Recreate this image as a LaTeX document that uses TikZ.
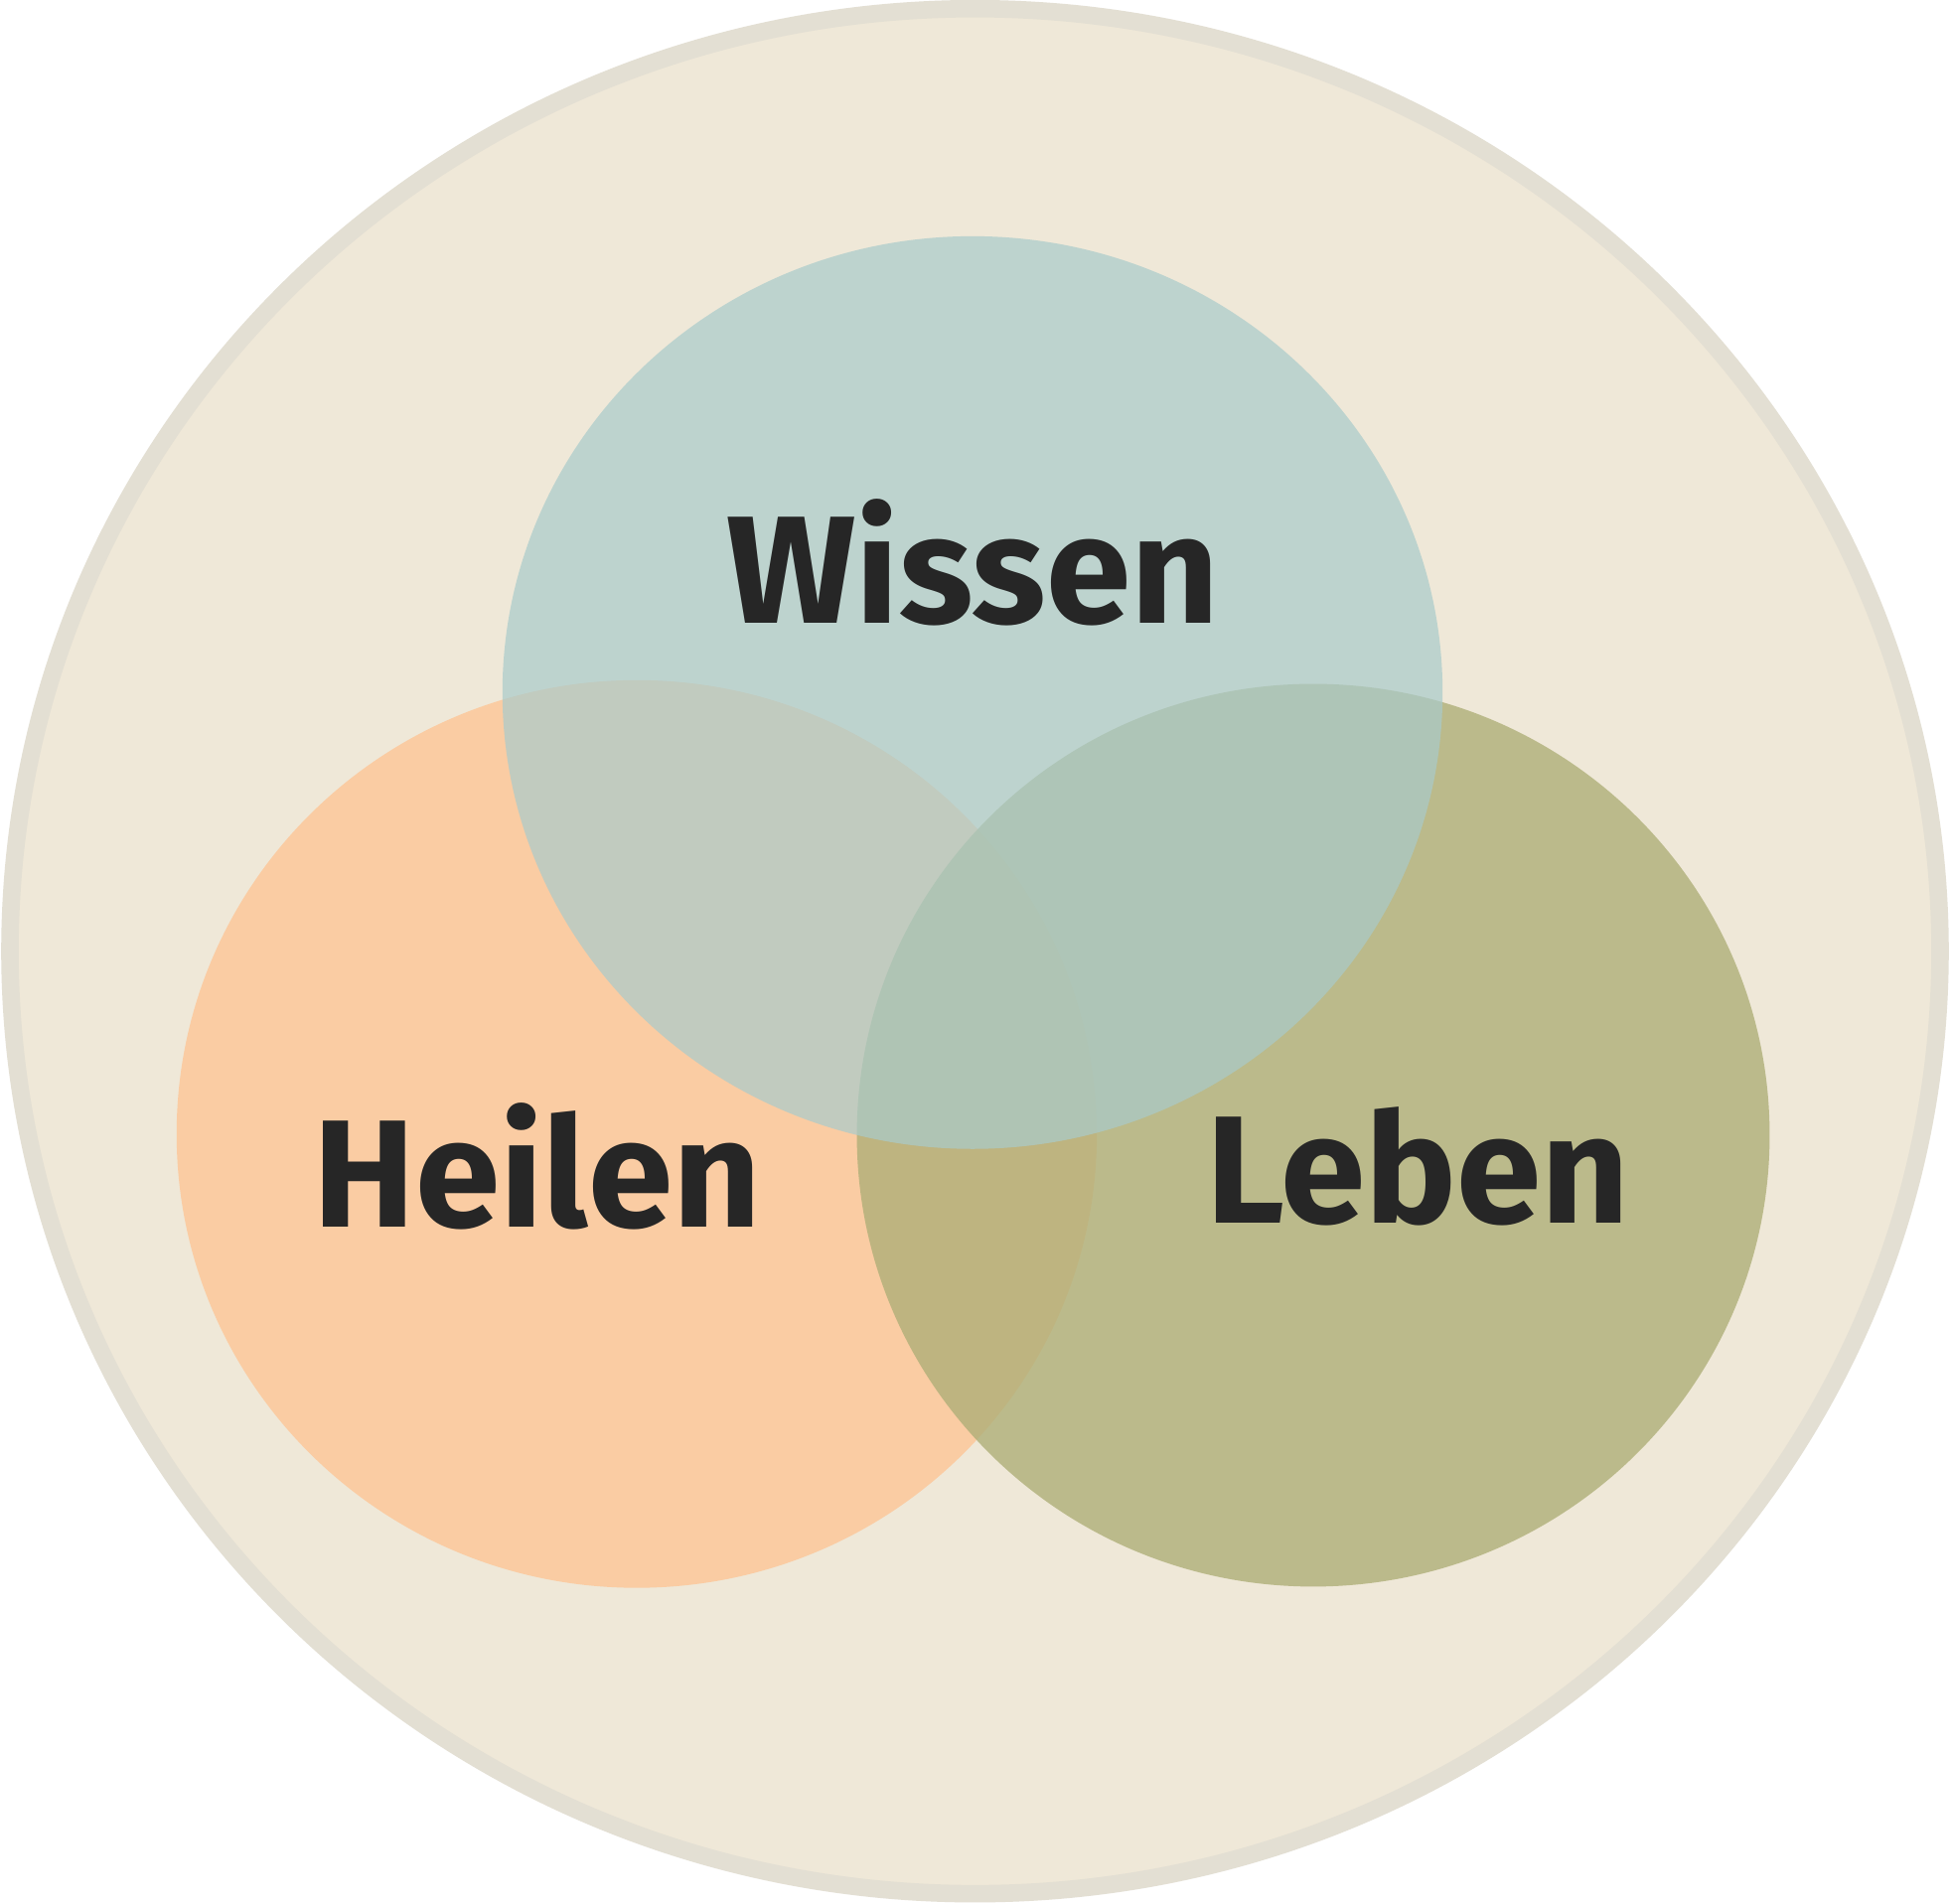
\documentclass[tikz,border=0pt]{standalone}
\usepackage{fontspec}
\setmainfont{Fira Sans}
\definecolor{bgc}{HTML}{EFE8D8}
\definecolor{rimc}{HTML}{E3DFD3}
\definecolor{wis}{HTML}{A9CBCB}
\definecolor{hei}{HTML}{FDC596}
\definecolor{leb}{HTML}{AFAF78}
\begin{document}
\begin{tikzpicture}[x=0.01cm,y=-0.01cm,
  lbl/.style={font=\fontsize{35}{40}\selectfont\bfseries, text=black!85},
  venn/.style={fill opacity=0.8, draw=none}]
\useasboundingbox (0,0) rectangle (1568,1531);
\fill[white] (0,0) rectangle (1568,1531);
\draw[fill=bgc, draw=rimc, line width=4pt] (784,765) ellipse [x radius=776, y radius=758];
\fill[venn, hei] (512,912) ellipse [x radius=370, y radius=365];
\fill[venn, leb] (1056,913) ellipse [x radius=367, y radius=363];
\fill[venn, wis, fill opacity=0.7] (782,557) ellipse [x radius=378, y radius=367];
\node[lbl] (w) at (782,452) {Wissen};
\node[lbl] (h) at (432,938) {Heilen};
\node[lbl] (l) at (1140,938) {Leben};
\end{tikzpicture}
\end{document}
